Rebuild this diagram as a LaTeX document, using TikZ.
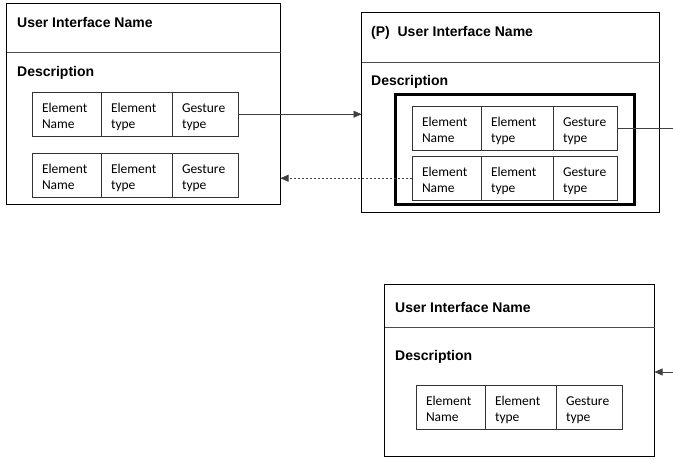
\documentclass[tikz,border=0pt]{standalone}
\usepackage{fontspec}
\setmainfont{Carlito}
\newfontfamily\headfont{Liberation Sans}
\usetikzlibrary{arrows.meta, positioning}

\tikzset{
  uibox/.style={draw, line width=0.8pt, inner sep=0pt, outer sep=0pt, anchor=north west},
  title/.style={anchor=base west, inner sep=0pt, font=\headfont\bfseries\fontsize{14}{16}\selectfont},
  cell/.style={draw, line width=0.7pt, draw=black!80, outer sep=0pt, inner xsep=10pt,
    minimum height=43pt, text width=#1, align=left, anchor=north west,
    font=\fontsize{13.5}{16}\selectfont,
    execute at begin node={\rule{0pt}{17pt}}, execute at end node=\strut},
  link/.style={line width=0.6pt, black!75},
  tip/.style={-{Triangle[length=8pt,width=7pt]}},
}

\begin{document}
\begin{tikzpicture}[x=1pt, y=-1pt]
    \useasboundingbox (0,0) rectangle (673,460);

    % Interface boxes
    \node[uibox, minimum width=274pt, minimum height=201pt] (uiA) at (6.5,3.5) {};
    \node[uibox, minimum width=298pt, minimum height=200pt] (uiB) at (361.5,12.5) {};
    \node[uibox, minimum width=270pt, minimum height=172pt] (uiC) at (384.5,284.5) {};

    \draw[black!70] (uiA.west |- 0,52) -- (uiA.east |- 0,52);
    \draw[black!70] (uiB.west |- 0,62) -- (uiB.east |- 0,62);
    \draw[black!70] (uiC.west |- 0,327) -- (uiC.east |- 0,327);

    \node[title] (nameA) at (17,28) {User Interface Name};
    \node[title] (descA) at (17,77) {Description};
    \node[title] (nameB) at (371,37) {(P)\ \ User Interface Name};
    \node[title] (descB) at (371,86) {Description};
    \node[title] (nameC) at (395,312) {User Interface Name};
    \node[title] (descC) at (395,360) {Description};

    % Element rows
    \node[cell=49pt] (a11) at (32,92) {Element\\Name};
    \node[cell=51pt, right=0pt of a11] (a12) {Element\\type};
    \node[cell=46pt, right=0pt of a12] (a13) {Gesture\\type};

    \node[cell=49pt] (a21) at (32,153) {Element\\Name};
    \node[cell=51pt, right=0pt of a21] (a22) {Element\\type};
    \node[cell=46pt, right=0pt of a22] (a23) {Gesture\\type};

    \node[draw, line width=2.6pt, inner sep=0pt, outer sep=0pt, anchor=north west,
      minimum width=239pt, minimum height=110pt] (grp) at (395.5,94.5) {};

    \node[cell=49pt] (b11) at (412,106) {Element\\Name};
    \node[cell=52pt, right=0pt of b11] (b12) {Element\\type};
    \node[cell=44pt, right=0pt of b12] (b13) {Gesture\\type};

    \node[cell=49pt] (b21) at (412,156) {Element\\Name};
    \node[cell=52pt, right=0pt of b21] (b22) {Element\\type};
    \node[cell=44pt, right=0pt of b22] (b23) {Gesture\\type};

    \node[cell=49pt] (c11) at (416,385) {Element\\Name};
    \node[cell=51pt, right=0pt of c11] (c12) {Element\\type};
    \node[cell=46pt, right=0pt of c12] (c13) {Gesture\\type};

    % Links
    \coordinate (outR) at (673,127);
    \coordinate (inR) at (673,372);
    \draw[link, tip] (a13.east) -- (a13.east -| uiB.west);
    \draw[link, tip, dash pattern=on 2pt off 2pt] (b21.west) -- (b21.west -| uiA.east);
    \draw[link] (b13.east) -- (b13.east -| outR);
    \draw[link, tip] (inR) -- (inR -| uiC.east);
\end{tikzpicture}
\end{document}
